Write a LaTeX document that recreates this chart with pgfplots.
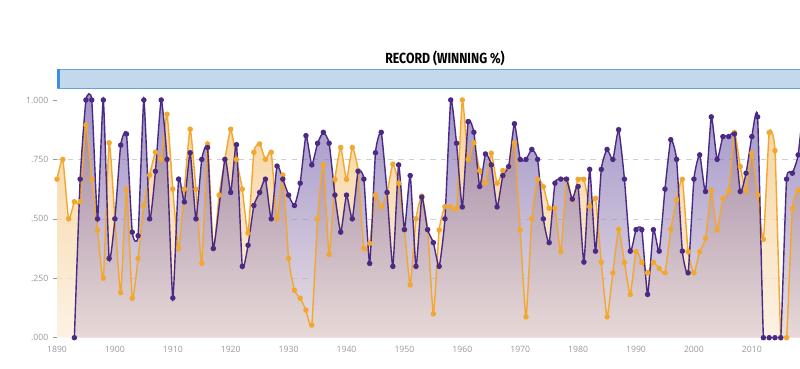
\documentclass[border=0pt]{standalone}
\usepackage{fontspec}
\setmainfont{Open Sans}
\newfontfamily\titlefont[FakeStretch=0.84]{Fira Sans}
\usepackage{pgfplots}
\usepackage{pgfplotstable}
\pgfplotsset{compat=1.18}
\definecolor{pline}{HTML}{4B2A85}
\definecolor{oline}{HTML}{F2A72E}
\definecolor{ptop}{HTML}{5F4AA6}
\definecolor{pbot}{HTML}{E4D3D2}
\definecolor{otop}{HTML}{F4C47A}
\definecolor{obot}{HTML}{FCF1E2}
\definecolor{tickgray}{HTML}{9A9A9A}
\definecolor{gridgray}{HTML}{D0D0D0}
\definecolor{barfill}{HTML}{C3D8EA}
\definecolor{barline}{HTML}{5DA4E3}
\definecolor{handle}{HTML}{3A8EE6}

\pgfplotstableread{
year v
1893 0
1894 0.667
1895 1
1896 1
1897 0.5
1898 1
1899 0.333
1900 0.5
1901 0.81
1902 0.857
1903 0.444
1904 0.429
1905 1
1906 0.5
1907 0.7
1908 1
1909 0.75
1910 0.167
1911 0.667
1912 0.571
1913 0.778
1914 0.5
1915 0.75
1916 0.8
1917 0.375
1919 0.75
1920 0.611
1921 0.812
1922 0.3
1923 0.389
1924 0.556
1925 0.611
1926 0.667
1927 0.5
1928 0.722
1929 0.667
1930 0.6
1931 0.556
1932 0.65
1933 0.85
1934 0.727
1935 0.818
1936 0.864
1937 0.818
1938 0.6
1939 0.444
1940 0.6
1941 0.5
1942 0.7
1943 0.667
1944 0.3125
1945 0.778
1946 0.864
1947 0.611
1948 0.3
1949 0.727
1950 0.4545
1951 0.682
1952 0.3
1953 0.591
1954 0.4545
1955 0.4
1956 0.3
1957 0.5
1958 1
1959 0.818
1960 0.55
1961 0.909
1962 0.864
1963 0.636
1964 0.773
1965 0.727
1966 0.55
1967 0.682
1968 0.72
1969 0.9
1970 0.75
1971 0.75
1972 0.792
1973 0.75
1974 0.5
1975 0.4
1976 0.65
1977 0.667
1978 0.667
1979 0.583
1980 0.636
1981 0.318
1982 0.708
1983 0.364
1984 0.708
1985 0.792
1986 0.75
1987 0.875
1988 0.667
1989 0.364
1990 0.4545
1991 0.4545
1992 0.182
1993 0.4545
1994 0.364
1995 0.625
1996 0.833
1997 0.75
1998 0.364
1999 0.273
2000 0.667
2001 0.769
2002 0.615
2003 0.929
2004 0.75
2005 0.846
2006 0.846
2007 0.857
2008 0.615
2009 0.692
2010 0.846
2011 0.929
2012 0
2013 0
2014 0
2015 0
2016 0.667
2017 0.692
2018 0.769
2019 1
}\pdata

\pgfplotstableread{
year v
1890 0.667
1891 0.75
1892 0.5
1893 0.572
1894 0.572
1895 0.895
1896 0.666
1897 0.453
1898 0.25
1899 0.82
1900 0.5
1901 0.19
1902 0.625
1903 0.166
1904 0.333
1905 0.558
1906 0.684
1907 0.78
1908 0.75
1909 0.94
1910 0.625
1911 0.375
1912 0.625
1913 0.877
1914 0.625
1915 0.313
1916 0.815
1917 0.375
1918 0.6
1919 0.75
1920 0.877
1921 0.75
1922 0.625
1923 0.44
1924 0.78
1925 0.815
1926 0.75
1927 0.78
1928 0.5
1929 0.684
1930 0.333
1931 0.2
1932 0.166
1933 0.116
1934 0.053
1935 0.5
1936 0.727
1937 0.35
1938 0.666
1939 0.8
1940 0.666
1941 0.8
1942 0.703
1943 0.376
1944 0.397
1945 0.6
1946 0.551
1947 0.61
1948 0.73
1949 0.65
1950 0.456
1951 0.222
1952 0.5
1953 0.596
1954 0.456
1955 0.1
1956 0.453
1957 0.551
1958 0.551
1959 0.545
1960 1
1961 0.75
1962 0.82
1963 0.703
1964 0.65
1965 0.776
1966 0.65
1967 0.703
1968 0.717
1969 0.82
1970 0.453
1971 0.088
1972 0.5
1973 0.666
1974 0.635
1975 0.545
1976 0.545
1977 0.362
1978 0.666
1979 0.58
1980 0.666
1981 0.666
1982 0.551
1983 0.586
1984 0.317
1985 0.088
1986 0.273
1987 0.456
1988 0.317
1989 0.182
1990 0.362
1991 0.317
1992 0.273
1993 0.317
1994 0.292
1995 0.273
1996 0.456
1997 0.58
1998 0.666
1999 0.362
2000 0.273
2001 0.362
2002 0.418
2003 0.62
2004 0.453
2005 0.586
2006 0.617
2007 0.863
2008 0.72
2009 0.617
2010 0.776
2011 0.6
2012 0.414
2013 0.863
2014 0.787
2015 0
2016 0
2017 0.544
2018 0.62
2019 0.65
}\odata

\begin{document}
\begin{tikzpicture}[x=1pt,y=1pt]
\useasboundingbox (0,0) rectangle (600,276);
\fill[white] (0,0) rectangle (600,276);
\node[font=\titlefont\bfseries\fontsize{11}{13}\selectfont, text=black] at (333.75,232.5) {RECORD (WINNING \%)};
\filldraw[fill=barfill, draw=barline, line width=0.6pt] (42.75,210) rectangle (602,224.25);
\fill[handle] (42.75,210) rectangle (45,224.25);
\begin{axis}[
  at={(42.75pt,22.725pt)}, anchor=south west,
  scale only axis, width=557.25pt, height=184.3pt,
  xmin=1890, xmax=2018.32, ymin=0, ymax=1.0337,
  axis line style={draw=none},
  tick pos=left,
  xtick={1890,1900,1910,1920,1930,1940,1950,1960,1970,1980,1990,2000,2010},
  xticklabels={1890,1900,1910,1920,1930,1940,1950,1960,1970,1980,1990,2000,2010},
  x tick style={draw=none},
  ytick={0.25,0.5,0.75},
  yticklabels={.250,.500,.750},
  extra y ticks={0,1},
  extra y tick labels={.000,1.000},
  extra y tick style={grid=none},
  ymajorgrids,
  grid style={gridgray, dash pattern=on 4pt off 4pt, line width=0.5pt},
  tick align=outside, major tick length=3pt,
  y tick style={tickgray, line width=0.5pt},
  ticklabel style={font=\fontsize{6.5}{7}\selectfont, text=tickgray},
]
\addplot[draw=none, top color=otop, bottom color=obot, fill opacity=0.75, smooth, tension=0.3, forget plot] table[x=year,y=v]{\odata} \closedcycle;
\addplot[draw=none, top color=ptop, bottom color=pbot, fill opacity=0.6, smooth, tension=0.3, forget plot] table[x=year,y=v]{\pdata} \closedcycle;
\addplot[oline, line width=1.05pt, smooth, tension=0.3, mark=*, mark size=1.5pt, mark options={solid, fill=oline, draw=oline}] table[x=year,y=v]{\odata};
\addplot[pline, line width=1.05pt, smooth, tension=0.3, mark=*, mark size=1.5pt, mark options={solid, fill=pline, draw=pline}] table[x=year,y=v]{\pdata};
\end{axis}
\end{tikzpicture}
\end{document}
